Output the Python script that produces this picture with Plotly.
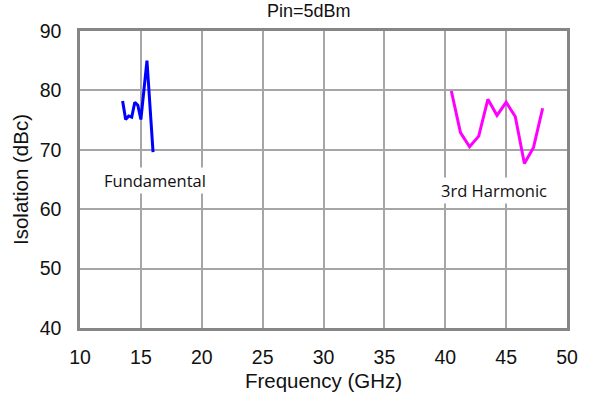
import plotly.graph_objects as go

fund_freq = [13.5, 13.75, 14.0, 14.25, 14.5, 14.75, 15.0, 15.5, 16.0]
fund_iso = [78.2, 75.1, 75.7, 75.5, 78.0, 77.5, 75.1, 85.0, 69.6]

harm_freq = [40.5, 41.25, 42.0, 42.75, 43.5, 44.25, 45.0, 45.75, 46.5, 47.25, 48.0]
harm_iso = [79.9, 72.9, 70.5, 72.3, 78.5, 75.8, 78.0, 75.6, 67.7, 70.4, 77.0]

x_ticks = [10, 15, 20, 25, 30, 35, 40, 45, 50]
y_ticks = [40, 50, 60, 70, 80, 90]

fig = go.Figure()
fig.add_trace(go.Scatter(x=fund_freq, y=fund_iso, mode="lines",
                         line=dict(color="#0000ff", width=3), name="Fundamental"))
fig.add_trace(go.Scatter(x=harm_freq, y=harm_iso, mode="lines",
                         line=dict(color="#ff00ff", width=3), name="3rd Harmonic"))

ann_font = dict(family="Open Sans, Noto Sans, sans-serif", size=16.5, color="#111111")
fig.add_annotation(x=16.14, y=64.9, text="Fundamental", showarrow=False,
                   font=ann_font, bgcolor="white", xanchor="center", yanchor="middle")
fig.add_annotation(x=44.0, y=63.2, text="3rd Harmonic", showarrow=False,
                   font=ann_font, bgcolor="white", xanchor="center", yanchor="middle")

fig.add_annotation(x=0.47, y=1, xref="paper", yref="paper", yshift=8,
                   text="Pin=5dBm", showarrow=False,
                   font=dict(family="Liberation Sans, Arial, sans-serif", size=18, color="#111111"),
                   xanchor="center", yanchor="bottom")

font_fam = "Liberation Sans, Arial, sans-serif"
axis_common = dict(showgrid=True, gridcolor="#a6a6a6", gridwidth=1.5,
                   showline=True, linecolor="#868686", linewidth=2.5, mirror=True,
                   ticks="", zeroline=False, automargin=False,
                   tickfont=dict(family=font_fam, size=19.5, color="#111111"),
                   title_font=dict(family=font_fam, size=20.5, color="#111111"))

fig.update_xaxes(range=[10, 50], tickvals=x_ticks, ticktext=[str(v) for v in x_ticks],
                 ticklabelstandoff=10,
                 title_text="Frequency (GHz)", title_standoff=7, **axis_common)
fig.update_yaxes(range=[40, 90], tickvals=y_ticks, ticktext=[str(v) for v in y_ticks],
                 ticklabelstandoff=12,
                 title_text="Isolation (dBc)", title_standoff=6, **axis_common)

fig.update_layout(width=590, height=398, showlegend=False,
                  margin=dict(l=80, r=23, t=31, b=70),
                  plot_bgcolor="white", paper_bgcolor="white")

fig.write_html("out.html")
